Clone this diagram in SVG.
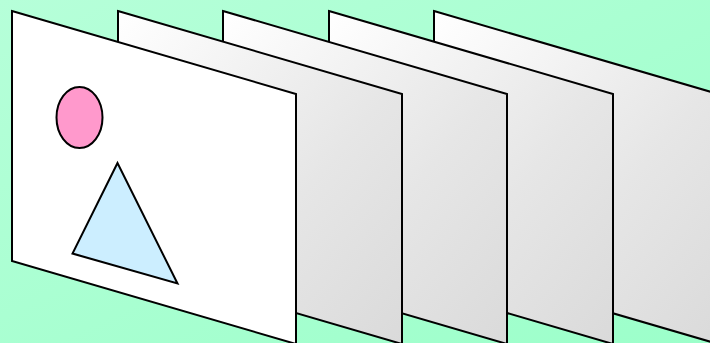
<svg xmlns="http://www.w3.org/2000/svg" width="710" height="343" viewBox="0 0 710 343">
<defs>
<linearGradient id="bg" x1="0" y1="0" x2="1" y2="1">
<stop offset="0" stop-color="#b6ffd9"/>
<stop offset="1" stop-color="#9cffca"/>
</linearGradient>
<linearGradient id="pg" gradientUnits="objectBoundingBox" x1="0" y1="0" x2="1" y2="1">
<stop offset="0" stop-color="#ffffff"/>
<stop offset="0.6" stop-color="#e6e6e6"/>
<stop offset="1" stop-color="#dadada"/>
</linearGradient>
<style>
.p{stroke:#000;stroke-width:2;stroke-linejoin:miter;fill:url(#pg)}
.f{stroke:#000;stroke-width:2;fill:#fff}
.s{stroke:#000;stroke-width:2}
</style>
</defs>
<rect width="710" height="343" fill="url(#bg)"/>
<g id="frame5"><path class="p" d="M434,11 L718,94 L718,344 L434,261 Z"/></g>
<g id="frame4"><path class="p" d="M329,11 L613,94 L613,344 L329,261 Z"/></g>
<g id="frame3"><path class="p" d="M223,11 L507,94 L507,344 L223,261 Z"/></g>
<g id="frame2"><path class="p" d="M118,11 L402,94 L402,344 L118,261 Z"/></g>
<g id="frame1">
<path class="f" d="M12,11 L296,94 L296,344 L12,261 Z"/>
<ellipse class="s" cx="79.5" cy="117.5" rx="23" ry="30.5" fill="#ff99cc"/>
<path class="s" d="M117.5,163 L72.5,253.5 L177.5,283.5 Z" fill="#cceeff" stroke-linejoin="miter"/>
</g>
</svg>
